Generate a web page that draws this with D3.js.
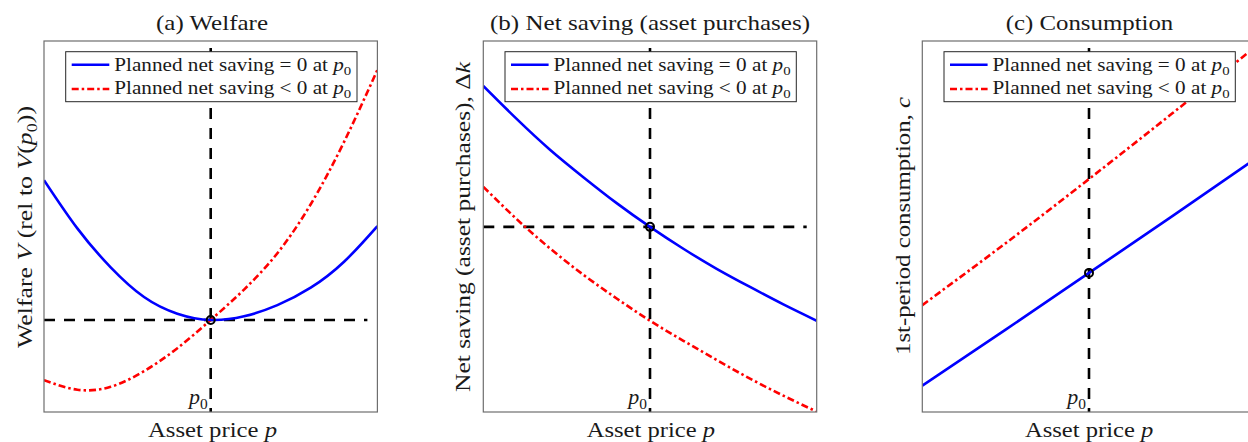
<!DOCTYPE html>
<html><head><meta charset="utf-8">
<script src="https://cdn.jsdelivr.net/npm/d3@7"></script>
<style>
body{margin:0;background:#fff}
svg{display:block}
text{font-family:"Liberation Serif","Times New Roman",serif;fill:#1a1a1a}
</style>
</head><body>
<script>
// ---------- data ----------
const priceGrid   = [0,0.2,0.4,0.6,0.8,1.0,1.2,1.4,1.6,1.8,2.0];
const welfareZero = [6.25,4.95,3.90,3.10,2.65,2.48,2.58,2.88,3.35,4.05,5.01];
const welfareNeg  = [0.86,0.60,0.68,1.10,1.72,2.48,3.30,4.28,5.60,7.28,9.22];
const savingZero  = [8.79,7.90,7.07,6.33,5.63,4.99,4.40,3.86,3.37,2.90,2.46];
const savingNeg   = [6.07,5.20,4.41,3.70,3.06,2.46,1.92,1.40,0.90,0.44,0.01];
const consGrid    = [0,0.5,1.0,1.5,2.0];
const consZero    = [0.71,2.22,3.75,5.28,6.83];
const consNeg     = [2.88,4.55,6.28,8.05,9.85];
const p0 = 1;
const xDomain = [0,2];
const yDomain = [0,10];
const refLevels = [2.48, 4.99, null];   // horizontal dashed reference (value at p0)
const refXEnd = 1.94;
const refYTop = 9.81;

const titles = [
  [{t:"(a) Welfare"}],
  [{t:"(b) Net saving (asset purchases)"}],
  [{t:"(c) Consumption"}]
];
const yLabels = [
  [{t:"Welfare "},{t:"V",i:1},{t:" (rel to "},{t:"V",i:1},{t:"("},{t:"p",i:1},{t:"0",sub:1},{t:"))"}],
  [{t:"Net saving (asset purchases), Δ"},{t:"k",i:1}],
  [{t:"1st-period consumption, "},{t:"c",i:1}]
];
const xLabel = [{t:"Asset price "},{t:"p",i:1}];
const legendLabels = [
  [{t:"Planned net saving = 0 at "},{t:"p",i:1},{t:"0",sub:1}],
  [{t:"Planned net saving < 0 at "},{t:"p",i:1},{t:"0",sub:1}]
];
const p0Label = [{t:"p",i:1},{t:"0",sub:1}];

// ---------- layout ----------
const W = 1248, H = 442;
const panelLeft = [44, 483.3, 922.3];
const pw = 333.4, axTop = 41, axBottom = 412;
const titleBox = [[156,112],[490,320],[1005.7,167.6]];
const xLabelBox = [[148,129],[586.7,128.3],[1025,128.3]];
const yLabelBox = [[32,348,242],[470,392,330],[910,355,258]];

const svg = d3.select("body").append("svg").attr("width",W).attr("height",H);
svg.append("rect").attr("width",W).attr("height",H).attr("fill","#fff");

function rich(g, segs, size){
  const t = g.append("text").attr("font-size", size);
  let shifted = false;
  segs.forEach(s=>{
    const ts = t.append("tspan").text(s.t);
    if(s.i) ts.attr("font-style","italic");
    if(s.sub){ ts.attr("font-size", size*0.7).attr("dy", size*0.22); shifted = true; }
    else if(shifted){ ts.attr("dy", -size*0.22); shifted = false; }
  });
  return t;
}

const series = [
  {x:priceGrid, a:welfareZero, b:welfareNeg},
  {x:priceGrid, a:savingZero,  b:savingNeg},
  {x:consGrid,  a:consZero,    b:consNeg}
];

series.forEach((s, k)=>{
  const L = panelLeft[k];
  const x = d3.scaleLinear().domain(xDomain).range([L, L+pw]);
  const y = d3.scaleLinear().domain(yDomain).range([axBottom, axTop]);
  const g = svg.append("g");
  const cid = "clip"+k;
  svg.append("clipPath").attr("id",cid).append("rect")
    .attr("x",L).attr("y",axTop).attr("width",pw).attr("height",axBottom-axTop);
  const pg = g.append("g").attr("clip-path",`url(#${cid})`);

  pg.append("line").attr("x1",x(p0)).attr("x2",x(p0)).attr("y1",y(refYTop)).attr("y2",y(yDomain[0]))
    .attr("stroke","#000").attr("stroke-width",2.6).attr("stroke-dasharray","11,9");
  if(refLevels[k]!==null){
    pg.append("line").attr("x1",x(xDomain[0])).attr("x2",x(refXEnd)).attr("y1",y(refLevels[k])).attr("y2",y(refLevels[k]))
      .attr("stroke","#000").attr("stroke-width",2.6).attr("stroke-dasharray","11,9");
  }
  const line = d3.line().x((d,i)=>x(s.x[i])).y(d=>y(d)).curve(d3.curveNatural);
  pg.append("path").attr("d",line(s.b)).attr("fill","none").attr("stroke","#ff0000")
    .attr("stroke-width",2.6).attr("stroke-dasharray","7,3,2.5,3");
  pg.append("path").attr("d",line(s.a)).attr("fill","none").attr("stroke","#0000ff")
    .attr("stroke-width",2.6);
  const i0 = s.x.indexOf(p0);
  pg.append("circle").attr("cx",x(p0)).attr("cy",y(s.a[i0])).attr("r",4)
    .attr("fill","none").attr("stroke","#000").attr("stroke-width",2);

  const lx = L+21.7, ly = 51.7, lw = 291.3, lh = 50;
  g.append("rect").attr("x",lx).attr("y",ly).attr("width",lw).attr("height",lh)
    .attr("fill","#fff").attr("stroke","#262626").attr("stroke-width",1);
  const rows = [{c:"#0000ff",d:null,cy:64.7,by:70.5},{c:"#ff0000",d:"7,3,2.5,3",cy:89,by:94}];
  rows.forEach((r,j)=>{
    const ln = g.append("line").attr("x1",lx+6).attr("x2",lx+43.6).attr("y1",r.cy).attr("y2",r.cy)
      .attr("stroke",r.c).attr("stroke-width",2.6);
    if(r.d) ln.attr("stroke-dasharray",r.d);
    rich(g, legendLabels[j], 19).attr("x",lx+48.6).attr("y",r.by)
      .attr("textLength",237).attr("lengthAdjust","spacingAndGlyphs");
  });

  g.append("rect").attr("x",L).attr("y",axTop).attr("width",pw).attr("height",axBottom-axTop)
    .attr("fill","none").attr("stroke","#6e6e6e").attr("stroke-width",1.2);

  rich(g, p0Label, 22).attr("x",x(p0)-3).attr("y",404).attr("text-anchor","end");

  rich(g, titles[k], 22).attr("x",titleBox[k][0]).attr("y",30)
    .attr("textLength",titleBox[k][1]).attr("lengthAdjust","spacingAndGlyphs");
  rich(g, xLabel, 21.5).attr("x",xLabelBox[k][0]).attr("y",436.5)
    .attr("textLength",xLabelBox[k][1]).attr("lengthAdjust","spacingAndGlyphs");
  const yl = yLabelBox[k];
  const yg = g.append("g").attr("transform",`translate(${yl[0]},${yl[1]}) rotate(-90)`);
  rich(yg, yLabels[k], 22).attr("x",0).attr("y",0)
    .attr("textLength",yl[2]).attr("lengthAdjust","spacingAndGlyphs");
});
</script>
</body></html>
